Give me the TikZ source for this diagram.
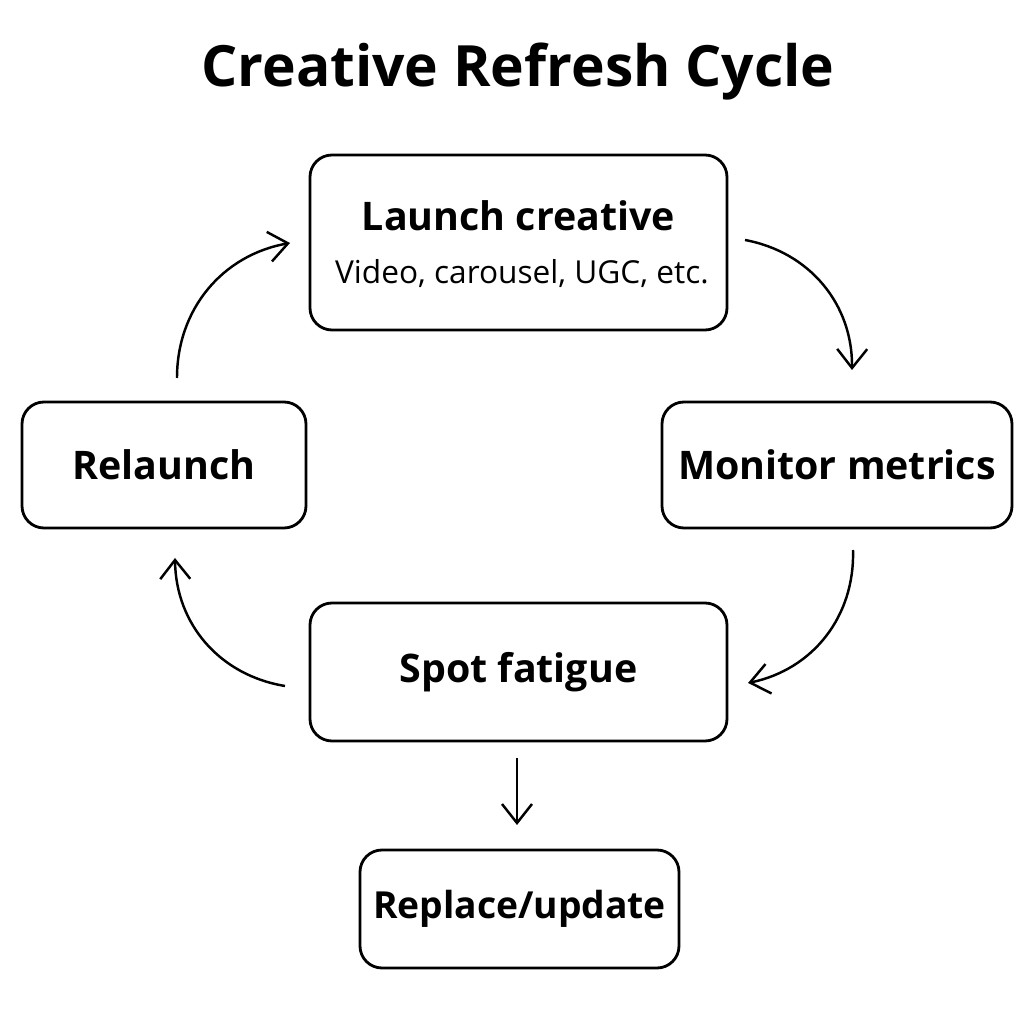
\documentclass[tikz,border=0pt]{standalone}
\usepackage{fontspec}
\setmainfont{Open Sans}
\usetikzlibrary{arrows.meta}
\tikzset{
  box/.style={draw, line width=0.8pt, rounded corners=0.22cm, align=center, inner sep=1pt, font=\fontsize{11.2}{14}\selectfont\bfseries},
  flow/.style={line width=0.7pt, -{Straight Barb[length=1.9mm, width=3mm]}},
}
\begin{document}
\begin{tikzpicture}
  \useasboundingbox[fill=white] (0, 0) rectangle (10.24, 10.24);
  \node[font=\fontsize{16.2}{20}\selectfont\bfseries] (title) at (5.18, 9.52) {Creative Refresh Cycle};
  \node[box, minimum width=4.17cm, minimum height=1.75cm] (launch) at (5.185, 7.815) {};
  \node[font=\fontsize{11.2}{14}\selectfont\bfseries] (launcht) at (5.185, 8.08) {Launch creative};
  \node[font=\fontsize{9}{11}\selectfont] (launchs) at (5.22, 7.50) {Video, carousel, UGC, etc.};
  \node[box, minimum width=3.5cm, minimum height=1.26cm] (monitor) at (8.37, 5.59) {Monitor metrics};
  \node[box, minimum width=2.84cm, minimum height=1.26cm] (relaunch) at (1.64, 5.59) {Relaunch};
  \node[box, minimum width=4.17cm, minimum height=1.38cm] (spot) at (5.185, 3.52) {Spot fatigue};
  \node[box, minimum width=3.19cm, minimum height=1.18cm, font=\fontsize{10.6}{13}\selectfont\bfseries] (replace) at (5.195, 1.15) {Replace/update};
  % arrow ends
  \coordinate (a1) at (7.45, 7.84);
  \coordinate (a2) at (8.52, 6.54);
  \coordinate (b1) at (8.53, 4.74);
  \coordinate (b2) at (7.48, 3.41);
  \coordinate (c1) at (2.85, 3.38);
  \coordinate (c2) at (1.75, 4.66);
  \coordinate (d1) at (1.77, 6.46);
  \coordinate (d2) at (2.90, 7.81);
  \coordinate (e1) at (5.17, 2.66);
  \coordinate (e2) at (5.17, 1.99);
  \draw[flow] (a1) to[bend left=40] (a2);
  \draw[flow] (b1) to[bend left=40] (b2);
  \draw[flow] (c1) to[bend left=40] (c2);
  \draw[flow] (d1) to[bend left=40] (d2);
  \draw[flow] (e1) -- (e2);
\end{tikzpicture}
\end{document}
